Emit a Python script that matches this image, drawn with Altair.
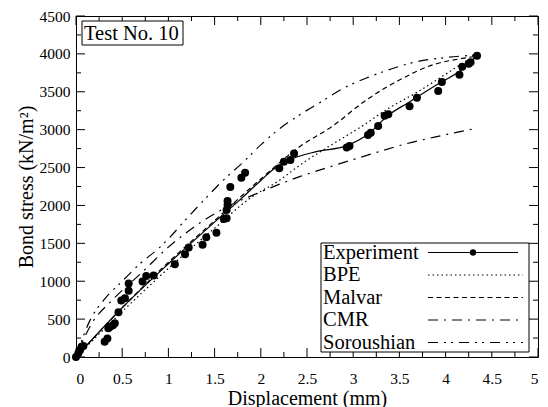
import altair as alt
import pandas as pd

# ---------------- data ----------------
exp_x = [0, 0.025, 0.043, 0.06, 0.08, 0.31, 0.34, 0.35, 0.37, 0.40, 0.42, 0.46, 0.49, 0.53,
         0.57, 0.57, 0.72, 0.76, 0.84, 1.07, 1.18, 1.22, 1.37, 1.41, 1.52, 1.60, 1.63, 1.63,
         1.64, 1.64, 1.67, 1.79, 1.83, 2.20, 2.25, 2.32, 2.36, 2.93, 2.96, 3.16, 3.19, 3.27,
         3.34, 3.38, 3.61, 3.69, 3.92, 3.96, 4.15, 4.18, 4.25, 4.27, 4.34]
exp_y = [0, 50, 90, 135, 145, 200, 245, 380, 400, 420, 445, 590, 745, 775,
         875, 970, 995, 1070, 1075, 1225, 1355, 1445, 1480, 1580, 1640, 1820, 1830, 1940,
         2005, 2060, 2245, 2365, 2430, 2490, 2575, 2600, 2685, 2765, 2785, 2930, 2960, 3050,
         3185, 3205, 3310, 3420, 3510, 3630, 3725, 3830, 3870, 3890, 3975]

expfit_x = [0, 0.5, 1.0, 1.5, 1.77, 2.0, 2.13, 2.35, 2.6, 2.93, 3.16, 3.38, 3.6, 3.9, 4.15, 4.34]
expfit_y = [0, 650, 1230, 1780, 2070, 2330, 2470, 2620, 2710, 2790, 2940, 3190, 3360, 3590, 3770, 3975]

bpe_x = [0, 0.5, 1.0, 1.5, 1.9, 2.2, 2.42, 2.78, 3.1, 3.38, 3.7, 3.96, 4.25, 4.3]
bpe_y = [0, 600, 1170, 1700, 2110, 2330, 2530, 2810, 3050, 3280, 3500, 3700, 3920, 3950]

malvar_x = [0, 0.5, 1.0, 1.5, 2.0, 2.42, 2.78, 3.14, 3.5, 3.86, 4.18, 4.31]
malvar_y = [0, 650, 1250, 1800, 2350, 2775, 3050, 3390, 3655, 3855, 3940, 3965]

cmr_x = [0, 0.15, 0.4, 0.7, 1.0, 1.33, 1.6, 2.0, 2.42, 2.8, 3.2, 3.56, 3.95, 4.34]
cmr_y = [0, 400, 760, 1100, 1450, 1760, 1960, 2180, 2380, 2530, 2680, 2810, 2920, 3020]

sor_x = [0, 0.15, 0.3, 0.5, 0.7, 0.9, 1.0, 1.2, 1.4, 1.6, 1.8, 2.0, 2.2, 2.44, 2.67, 2.9,
         3.16, 3.41, 3.68, 3.95, 4.33]
sor_y = [0, 480, 750, 1000, 1240, 1440, 1560, 1830, 2090, 2340, 2560, 2800, 3010, 3210, 3380,
         3550, 3690, 3800, 3895, 3945, 3985]

x_major = [0, 0.5, 1, 1.5, 2, 2.5, 3, 3.5, 4, 4.5, 5]
x_minor = [0.25, 0.75, 1.25, 1.75, 2.25, 2.75, 3.25, 3.75, 4.25, 4.75]
y_major = [0, 500, 1000, 1500, 2000, 2500, 3000, 3500, 4000, 4500]
y_minor = [250, 750, 1250, 1750, 2250, 2750, 3250, 3750, 4250]

legend_names = ["Experiment", "BPE", "Malvar", "CMR", "Soroushian"]
panel_label = "Test No. 10"

# ---------------- styles ----------------
W, H = 462, 341
FONT = "Liberation Serif"
dashes = {
    "BPE": [1.5, 3],
    "Malvar": [5, 3.5],
    "CMR": [10, 6, 2, 6],
    "Soroushian": [10, 6, 2, 5, 2, 6],
}

xs = alt.Scale(domain=[0, 5], nice=False, zero=False)
ys = alt.Scale(domain=[0, 4500], nice=False, zero=False)

X_AX = alt.Axis(
    values=x_major, labelExpr="'' + datum.value", title="Displacement (mm)",
    tickSize=0, domain=False, grid=False, labelPadding=14, titlePadding=1.5,
    labelFont=FONT, labelFontSize=15.5, titleFont=FONT, titleFontSize=20,
    titleFontWeight="normal", labelColor="black", titleColor="black")
Y_AX = alt.Axis(
    values=y_major, format="d", title="Bond stress (kN/m²)",
    tickSize=0, domain=False, grid=False, labelPadding=6, titlePadding=3,
    labelFont=FONT, labelFontSize=15.5, titleFont=FONT, titleFontSize=20,
    titleFontWeight="normal", labelColor="black", titleColor="black")


def XE(field):
    return alt.X(field, scale=xs, axis=X_AX)


def YE(field):
    return alt.Y(field, scale=ys, axis=Y_AX)


def line_layer(xv, yv, dash=None, width=1.2):
    df = pd.DataFrame({"x": xv, "y": yv})
    kw = dict(color="black", strokeWidth=width, interpolate="monotone", clip=True)
    if dash:
        kw["strokeDash"] = dash
    return alt.Chart(df).mark_line(**kw).encode(x=XE("x:Q"), y=YE("y:Q"))


one = pd.DataFrame({"a": [0]})

points = alt.Chart(pd.DataFrame({"x": exp_x, "y": exp_y})).mark_circle(
    color="black", size=64, opacity=1
).encode(x=XE("x:Q"), y=YE("y:Q"))

layers = [points, line_layer(expfit_x, expfit_y)]
layers.append(line_layer(bpe_x, bpe_y, dashes["BPE"]))
layers.append(line_layer(malvar_x, malvar_y, dashes["Malvar"]))
layers.append(line_layer(cmr_x, cmr_y, dashes["CMR"]))
layers.append(line_layer(sor_x, sor_y, dashes["Soroushian"]))


def xticks(vals, length):
    df = pd.DataFrame({"v": vals})
    b = alt.Chart(df).mark_rule(color="black", strokeWidth=1).encode(
        x=XE("v:Q"), y=alt.value(H), y2=alt.value(H - length))
    t = alt.Chart(df).mark_rule(color="black", strokeWidth=1).encode(
        x=XE("v:Q"), y=alt.value(0), y2=alt.value(length))
    return [b, t]


def yticks(vals, length):
    df = pd.DataFrame({"v": vals})
    l = alt.Chart(df).mark_rule(color="black", strokeWidth=1).encode(
        y=YE("v:Q"), x=alt.value(0), x2=alt.value(length))
    r = alt.Chart(df).mark_rule(color="black", strokeWidth=1).encode(
        y=YE("v:Q"), x=alt.value(W), x2=alt.value(W - length))
    return [l, r]


layers += xticks(x_major, 9) + xticks(x_minor, 5) + yticks(y_major, 9) + yticks(y_minor, 5)

# legend box
LX0, LX1, LY0, LY1 = 245, 453, 227, 336
layers.append(alt.Chart(one).mark_rect(fill="white", stroke="black", strokeWidth=1).encode(
    x=alt.value(LX0), x2=alt.value(LX1), y=alt.value(LY0), y2=alt.value(LY1)))
row0, step = 236.5, 22.5
for i, name in enumerate(legend_names):
    yy = row0 + i * step
    layers.append(alt.Chart(one).mark_text(
        align="left", baseline="middle", font=FONT, fontSize=20.5, color="black", text=name
    ).encode(x=alt.value(LX0 + 2), y=alt.value(yy)))
    if name == "Experiment":
        layers.append(alt.Chart(one).mark_rule(color="black", strokeWidth=1.2).encode(
            x=alt.value(352), x2=alt.value(442), y=alt.value(yy)))
        layers.append(alt.Chart(one).mark_point(
            filled=True, color="black", size=40, shape="circle", opacity=1
        ).encode(x=alt.value(397), y=alt.value(yy)))
    else:
        layers.append(alt.Chart(one).mark_rule(
            color="black", strokeWidth=1.2, strokeDash=dashes[name]
        ).encode(x=alt.value(352), x2=alt.value(447), y=alt.value(yy)))

# panel label
layers.append(alt.Chart(one).mark_rect(fill="white", stroke="black", strokeWidth=1).encode(
    x=alt.value(6), x2=alt.value(107), y=alt.value(5), y2=alt.value(29)))
layers.append(alt.Chart(one).mark_text(
    align="left", baseline="middle", font=FONT, fontSize=20.5, color="black", text=panel_label
).encode(x=alt.value(8), y=alt.value(17.5)))

chart = alt.layer(*layers).properties(
    width=W, height=H,
    autosize=alt.AutoSizeParams(type="none"),
    padding={"left": 76, "top": 16, "right": 10, "bottom": 50},
    background="white",
).configure_view(stroke="black", strokeWidth=1)

chart.save("out.html", embed_options={"renderer": "svg", "actions": False})
